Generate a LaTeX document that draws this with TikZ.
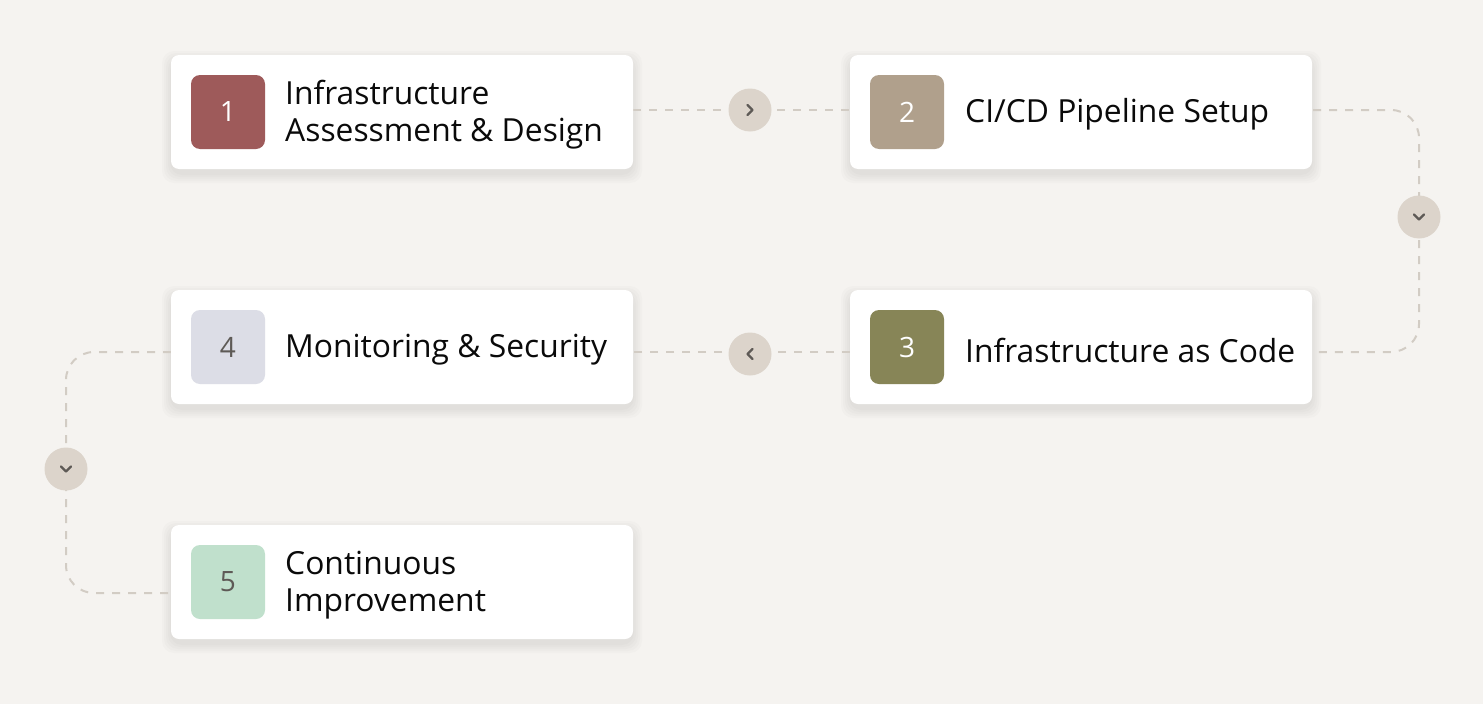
\documentclass[tikz,border=0pt]{standalone}
\usepackage{fontspec}
\setmainfont{Open Sans}
\definecolor{bg}{HTML}{F5F3F0}
\definecolor{dashc}{HTML}{D2CCC4}
\definecolor{circc}{HTML}{DCD4CB}
\definecolor{chev}{HTML}{5E5A56}
\definecolor{sqa}{HTML}{9E5A5A}
\definecolor{sqb}{HTML}{B0A08C}
\definecolor{sqc}{HTML}{878557}
\definecolor{sqd}{HTML}{DCDDE6}
\definecolor{sqe}{HTML}{C0E0CC}
\definecolor{txt}{HTML}{0A0A0A}
\tikzset{
  x=1pt,y=-1pt,
  card/.style={draw=none,fill=white,rounded corners=8pt,minimum width=462pt,minimum height=114pt},
  shadowbox/.style={draw=none,fill=black,fill opacity=0.014,rounded corners=12pt,minimum width=462pt+#1,minimum height=114pt+#1},
  numsq/.style={draw=none,rounded corners=9pt,minimum width=74pt,minimum height=74pt,inner sep=0pt,font=\fontsize{28}{28}\selectfont},
  label/.style={anchor=west,inner sep=0pt,align=left,text=txt,font=\fontsize{31.8}{37}\selectfont},
  conn/.style={draw=dashc,line width=2pt,dash pattern=on 8pt off 8pt,rounded corners=28pt},
  stepcirc/.style={circle,fill=circc,minimum size=43pt,inner sep=0pt},
  chevr/.style={draw=chev,line width=2.2pt,line cap=round,line join=round}
}
\begin{document}
\begin{tikzpicture}
\useasboundingbox (0,0) rectangle (1483,704);
\fill[bg] (0,0) rectangle (1483,704);
% connector waypoints
\coordinate (c1) at (750,110);
\coordinate (c2) at (1419,217);
\coordinate (c3) at (750,354);
\coordinate (c4) at (66,469);
\coordinate (p1) at (402,112);
\coordinate (p2) at (1081,112);
\coordinate (p3) at (1081,347);
\coordinate (p4) at (402,347);
\coordinate (p5) at (402,582);
% soft shadows
\foreach \p in {p1,p2,p3,p4,p5}{
  \foreach \s in {2,6,10,14,18}{
    \node[shadowbox=\s] at ([yshift=-5pt]\p) {};
  }
}
\draw[conn] (633,110) -- (850,110);
\draw[conn] (1313,110) -- (1419,110) -- (1419,352) -- (1313,352);
\draw[conn] (850,352) -- (633,352);
\draw[conn] (171,352) -- (66,352) -- (66,593) -- (171,593);
% cards
\node[card] (card1) at (p1) {};
\node[card] (card2) at (p2) {};
\node[card] (card3) at (p3) {};
\node[card] (card4) at (p4) {};
\node[card] (card5) at (p5) {};
% circles
\node[stepcirc] (k1) at (c1) {};
\node[stepcirc] (k2) at (c2) {};
\node[stepcirc] (k3) at (c3) {};
\node[stepcirc] (k4) at (c4) {};
\draw[chevr] ([shift={(-2.5,-5)}]k1.center) -- ([shift={(2.5,0)}]k1.center) -- ([shift={(-2.5,5)}]k1.center);
\draw[chevr] ([shift={(2.5,-5)}]k3.center) -- ([shift={(-2.5,0)}]k3.center) -- ([shift={(2.5,5)}]k3.center);
\draw[chevr] ([shift={(-5,-2.5)}]k2.center) -- ([shift={(0,2.5)}]k2.center) -- ([shift={(5,-2.5)}]k2.center);
\draw[chevr] ([shift={(-5,-2.5)}]k4.center) -- ([shift={(0,2.5)}]k4.center) -- ([shift={(5,-2.5)}]k4.center);
% number squares
\node[numsq,fill=sqa,text=white] (n1) at (228,112) {1};
\node[numsq,fill=sqb,text=white] (n2) at (907,112) {2};
\node[numsq,fill=sqc,text=white] (n3) at (907,347) {3};
\node[numsq,fill=sqd,text=chev] (n4) at (228,347) {4};
\node[numsq,fill=sqe,text=chev] (n5) at (228,582) {5};
% labels
\node[label] (t1) at (285,115) {Infrastructure\\Assessment \& Design};
\node[label] (t2) at (965,114) {CI/CD Pipeline Setup};
\node[label] (t3) at (965,350) {Infrastructure as Code};
\node[label] (t4) at (285,350) {Monitoring \& Security};
\node[label] (t5) at (285,585) {Continuous\\Improvement};
\end{tikzpicture}
\end{document}
